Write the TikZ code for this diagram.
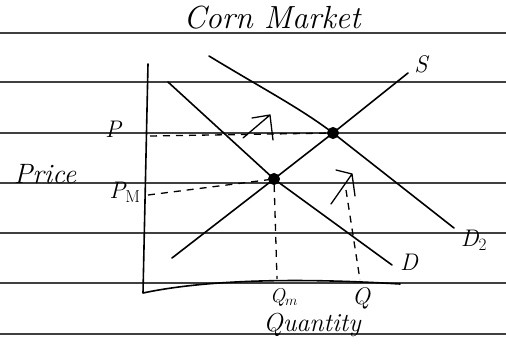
\documentclass[tikz,border=0pt]{standalone}
\begin{document}
\begin{tikzpicture}[x=1pt,y=-1pt,
  ink/.style={line width=1.6pt,line cap=round,line join=round,black},
  rule/.style={line width=1.1pt,black!75},
  guide/.style={line width=1.3pt,dash pattern=on 7pt off 6pt,black},
  eq/.style={circle,fill=black,draw=black,line width=1pt,inner sep=0pt,minimum size=11pt},
  hand/.style={font=\itshape\fontsize{24}{24}\selectfont,inner sep=0pt}]
\useasboundingbox (0,0) rectangle (506,351);
\fill[white] (0,0) rectangle (506,351);
% ruled paper
\foreach \yy in {33,82,133,183,233,283,334}
  \draw[rule] (0,\yy) -- (506,\yy);
% axes
\coordinate (ytop) at (148,64);
\coordinate (orig) at (143,293);
\coordinate (xend) at (400,284);
\draw[ink] (ytop) -- (orig) .. controls (190,283) and (270,276) .. (xend);
% equilibria
\node[eq] (e1) at (274,179) {};
\node[eq] (e2) at (333,133) {};
% supply
\coordinate (sa) at (172,258);
\coordinate (sb) at (408,73);
\draw[ink] (sa) -- (e1) -- (e2) -- (sb);
% demand
\coordinate (da) at (168,82);
\coordinate (db) at (392,265);
\draw[ink] (da) -- (e1.center) -- (db);
% demand 2
\coordinate (d2a) at (209,56);
\coordinate (d2b) at (454,228);
\draw[ink] (d2a) .. controls (265,90) and (300,108) .. (e2.center) -- (d2b);
% guides
\coordinate (pa) at (150,136);
\coordinate (pma) at (148,195);
\coordinate (qma) at (277,279);
\coordinate (qa) at (360,280);
\draw[guide] (pa) -- (e2);
\draw[guide] (pma) -- (e1);
\draw[guide] (e1) -- (qma);
\coordinate (qtop) at (346,190);
\draw[guide] (qtop) -- (qa);
% shift arrows
\coordinate (a1s) at (243,138);
\coordinate (a1t) at (270,115);
\draw[ink,line width=1.3pt] (a1s) -- (a1t) (252,118) -- (a1t) -- (273,140);
\coordinate (a2s) at (331,204);
\coordinate (a2t) at (352,174);
\draw[ink,line width=1.3pt] (a2s) -- (a2t) (336,170) -- (a2t) -- (355,196);
% labels
\node[hand,font=\itshape\fontsize{32}{32}\selectfont] (title) at (272,18) {Corn Market};
\node[hand] (lS) at (421,64) {S};
\node[hand] (lD) at (409,262) {D};
\node[hand] (lD2) at (474,240) {D$_2$};
\node[hand] (lP) at (113,129) {P};
\node[hand] (lPM) at (125,192) {P$_{\mathrm{M}}$};
\node[hand,font=\itshape\fontsize{28}{28}\selectfont] (lprice) at (45,174) {Price};
\node[hand,font=\itshape\fontsize{20}{20}\selectfont] (lQm) at (284,297) {Q$_{m}$};
\node[hand] (lQ) at (361,298) {Q};
\node[hand,font=\itshape\fontsize{26}{26}\selectfont] (lqty) at (312,325) {Quantity};
\end{tikzpicture}
\end{document}
